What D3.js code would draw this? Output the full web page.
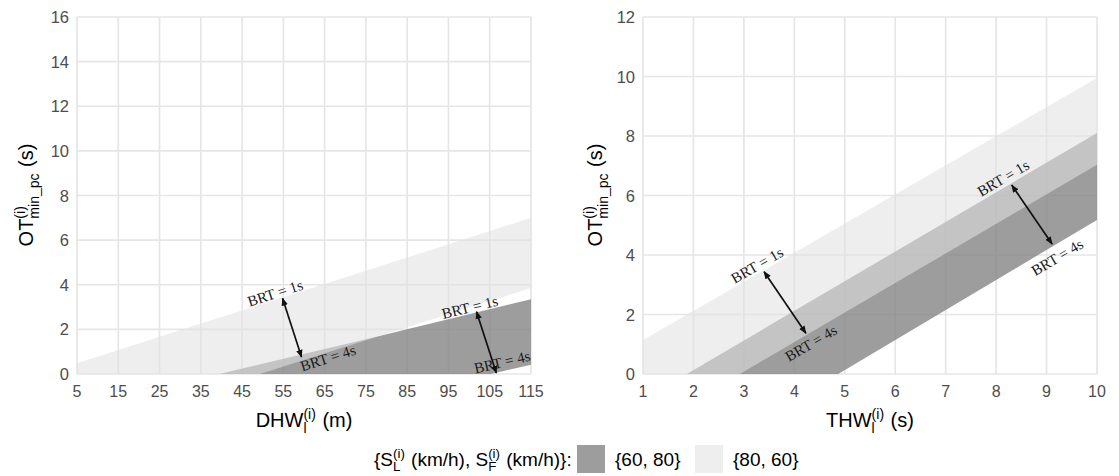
<!DOCTYPE html>
<html>
<head>
<meta charset="utf-8">
<script src="https://cdn.jsdelivr.net/npm/d3@7"></script>
<style>
  body { margin: 0; background: #fff; }
  text { font-family: "Liberation Sans", Arial, sans-serif; }
</style>
</head>
<body>
<svg id="chart" width="1119" height="476"></svg>
<script>
// ---- values ----
var dhwTicks = [5, 15, 25, 35, 45, 55, 65, 75, 85, 95, 105, 115];
var otTicksLeft = [0, 2, 4, 6, 8, 10, 12, 14, 16];
var thwTicks = [1, 2, 3, 4, 5, 6, 7, 8, 9, 10];
var otTicksRight = [0, 2, 4, 6, 8, 10, 12];

// left panel boundaries [DHW (m), OT (s)]
var dhwLight1s = [[5, 0.48], [35, 2.26], [75, 4.63], [115, 7.0]];
var dhwLight4s = [[5, 0], [49.3, 0], [75, 1.51], [115, 3.85]];
var dhwDark1s = [[5, 0], [39.5, 0], [75, 1.56], [115, 3.35]];
var dhwDark4s = [[5, 0], [105.3, 0], [115, 0.42]];

// right panel boundaries [THW (s), OT (s)]
var thwLight1s = [[1, 1.14], [10, 9.95]];
var thwLight4s = [[1, 0], [2.92, 0], [10, 7.03]];
var thwDark1s = [[1, 0], [1.87, 0], [10, 8.1]];
var thwDark4s = [[1, 0], [4.87, 0], [10, 5.18]];

// double arrows between BRT = 1s and BRT = 4s
var dhwArrows = [[[54.8, 3.39], [59.4, 0.76]], [[101.8, 2.79], [106.6, 0.04]]];
var thwArrows = [[[3.40, 3.44], [4.23, 1.37]], [[8.31, 6.35], [9.11, 4.37]]];

// annotation text and anchor point
var dhwNotes = [["BRT = 1s", 53.0, 3.63], ["BRT = 4s", 65.8, 0.72], ["BRT = 1s", 100.2, 3.0], ["BRT = 4s", 108.0, 0.54]];
var thwNotes = [["BRT = 1s", 3.26, 3.66], ["BRT = 4s", 4.33, 1.04], ["BRT = 1s", 8.14, 6.59], ["BRT = 4s", 9.21, 3.93]];

var groups = ["{60, 80}", "{80, 60}"];

var svg = d3.select("#chart");
svg.append("rect").attr("width", 1119).attr("height", 476).attr("fill", "#fff");

svg.append("defs").append("marker")
    .attr("id", "arr")
    .attr("viewBox", "0 0 10 10")
    .attr("refX", 9).attr("refY", 5)
    .attr("markerUnits", "userSpaceOnUse")
    .attr("markerWidth", 8).attr("markerHeight", 8)
    .attr("orient", "auto-start-reverse")
    .append("path").attr("d", "M0,1 L10,5 L0,9 Z").attr("fill", "#111");

var darkFill = "#858585", darkOpacity = 0.8;
var lightFill = "#e1e1e1", lightOpacity = 0.57;

// text with stacked super/subscripts, laid out piece by piece
function richText(parent, parts, fs, anchor) {
    var g = parent.append("g");
    var x = 0;
    parts.forEach(function (p) {
        if (typeof p === "string") {
            var t = g.append("text").attr("x", x).attr("y", 0)
                .attr("font-size", fs).attr("fill", "#000").text(p)
                .style("white-space", "pre");
            x += t.node().getComputedTextLength();
        } else {
            var s = fs * 0.7;
            var a = g.append("text").attr("x", x).attr("y", -fs * 0.42)
                .attr("font-size", s).attr("fill", "#000").text(p.sup);
            var b = g.append("text").attr("x", x).attr("y", fs * 0.28)
                .attr("font-size", s).attr("fill", "#000").text(p.sub);
            x += Math.max(a.node().getComputedTextLength(), b.node().getComputedTextLength()) + 1;
        }
    });
    if (anchor === "middle") g.attr("transform", "translate(" + (-x / 2) + ",0)");
    return g;
}

function drawPanel(cfg) {
    var x = d3.scaleLinear().domain(cfg.xDomain).range(cfg.xRange);
    var y = d3.scaleLinear().domain(cfg.yDomain).range([374, 17]);
    var g = svg.append("g");

    // grid
    g.selectAll(".gx").data(cfg.xTicks).enter().append("line")
        .attr("x1", function (d) { return x(d) }).attr("x2", function (d) { return x(d) })
        .attr("y1", y.range()[0]).attr("y2", y.range()[1])
        .attr("stroke", "#e6e6e6").attr("stroke-width", 1.7);
    g.selectAll(".gy").data(cfg.yTicks).enter().append("line")
        .attr("y1", function (d) { return y(d) }).attr("y2", function (d) { return y(d) })
        .attr("x1", x.range()[0]).attr("x2", x.range()[1])
        .attr("stroke", "#e6e6e6").attr("stroke-width", 1.7);

    var line = d3.line().x(function (d) { return x(d[0]) }).y(function (d) { return y(d[1]) });
    function ribbon(upper, lower) {
        return line(upper.concat(lower.slice().reverse())) + "Z";
    }
    g.append("path").attr("d", ribbon(cfg.dark1s, cfg.dark4s))
        .attr("fill", darkFill).attr("fill-opacity", darkOpacity);
    g.append("path").attr("d", ribbon(cfg.light1s, cfg.light4s))
        .attr("fill", lightFill).attr("fill-opacity", lightOpacity);

    // tick labels
    g.selectAll(".tx").data(cfg.xTicks).enter().append("text")
        .attr("x", function (d) { return x(d) }).attr("y", 397)
        .attr("text-anchor", "middle").attr("font-size", 16).attr("fill", "#4d4d4d")
        .text(function (d) { return d });
    g.selectAll(".ty").data(cfg.yTicks).enter().append("text")
        .attr("x", x.range()[0] - 8).attr("y", function (d) { return y(d) + 6 })
        .attr("text-anchor", "end").attr("font-size", 16.5).attr("fill", "#4d4d4d")
        .text(function (d) { return d });

    // arrows
    g.selectAll(".arrow").data(cfg.arrows).enter().append("line")
        .attr("x1", function (d) { return x(d[0][0]) }).attr("y1", function (d) { return y(d[0][1]) })
        .attr("x2", function (d) { return x(d[1][0]) }).attr("y2", function (d) { return y(d[1][1]) })
        .attr("stroke", "#111").attr("stroke-width", 1.7)
        .attr("marker-start", "url(#arr)").attr("marker-end", "url(#arr)");

    // BRT notes, rotated along their boundary
    var bounds = [cfg.light1s, cfg.light4s, cfg.dark1s, cfg.dark4s];
    cfg.notes.forEach(function (n, i) {
        var b = bounds[i], p = b[b.length - 2], q = b[b.length - 1];
        var ang = Math.atan2(y(q[1]) - y(p[1]), x(q[0]) - x(p[0])) * 180 / Math.PI;
        g.append("text")
            .attr("transform", "translate(" + x(n[1]) + "," + y(n[2]) + ") rotate(" + ang + ")")
            .attr("text-anchor", "middle").attr("dy", "0.35em")
            .style("font-family", "'Liberation Serif', 'Times New Roman', serif")
            .attr("font-size", 15).attr("fill", "#1a1a1a")
            .text(n[0]);
    });

    // axis titles
    var xt = g.append("g").attr("transform", "translate(" + ((x.range()[0] + x.range()[1]) / 2) + ",427)");
    richText(xt, cfg.xTitle, 20, "middle");
    var yt = g.append("g").attr("transform", "translate(" + cfg.yTitleX + ",195) rotate(-90)");
    richText(yt, ["OT", { sup: "(i)", sub: "min_pc" }, " (s)"], 20, "middle");
}

drawPanel({
    xDomain: [5, 115], xRange: [77, 531], yDomain: [0, 16],
    xTicks: dhwTicks, yTicks: otTicksLeft,
    light1s: dhwLight1s, light4s: dhwLight4s, dark1s: dhwDark1s, dark4s: dhwDark4s,
    arrows: dhwArrows, notes: dhwNotes,
    xTitle: ["DHW", { sup: "(i)", sub: "l" }, " (m)"], yTitleX: 33
});
drawPanel({
    xDomain: [1, 10], xRange: [643, 1097], yDomain: [0, 12],
    xTicks: thwTicks, yTicks: otTicksRight,
    light1s: thwLight1s, light4s: thwLight4s, dark1s: thwDark1s, dark4s: thwDark4s,
    arrows: thwArrows, notes: thwNotes,
    xTitle: ["THW", { sup: "(i)", sub: "l" }, " (s)"], yTitleX: 602
});

// legend
var lg = svg.append("g").attr("transform", "translate(374,466)");
richText(lg, ["{S", { sup: "(i)", sub: "L" }, " (km/h), S", { sup: "(i)", sub: "F" }, " (km/h)}:"], 19, "start");
var keys = [[577, darkFill, darkOpacity], [695, lightFill, lightOpacity]];
keys.forEach(function (k, i) {
    svg.append("rect").attr("x", k[0]).attr("y", 445).attr("width", 28).attr("height", 28)
        .attr("fill", k[1]).attr("fill-opacity", k[2]);
    svg.append("text").attr("x", k[0] + 38).attr("y", 466)
        .attr("font-size", 19).attr("fill", "#000").text(groups[i]);
});
</script>
</body>
</html>
